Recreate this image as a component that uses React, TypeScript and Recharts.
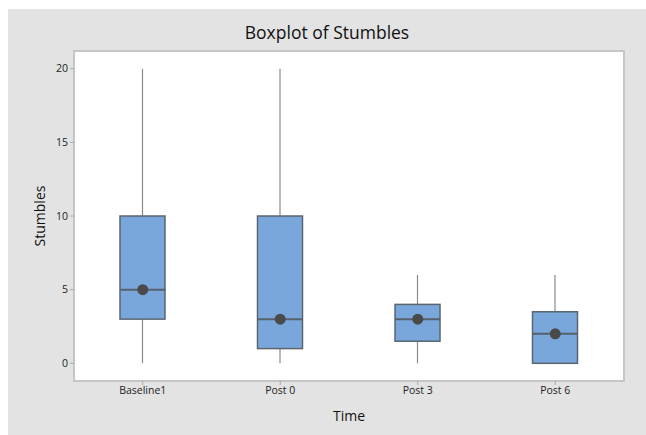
import { ComposedChart, Bar, Scatter, XAxis, YAxis, CartesianGrid, ReferenceArea } from 'recharts';

const times = ['Baseline1', 'Post 0', 'Post 3', 'Post 6'];
const mins = [0, 0, 0, 0];
const q1s = [3, 1, 1.5, 0];
const medians = [5, 3, 3, 2];
const q3s = [10, 10, 4, 3.5];
const maxs = [20, 20, 6, 6];
const means = [5, 3, 3, 2];
const yTicks = [0, 5, 10, 15, 20];

const data = times.map((time, i) => ({
  time,
  whisker: [mins[i], maxs[i]],
  box: [q1s[i], q3s[i]],
  median: medians[i],
  mean: means[i],
}));

const FONT = '"Open Sans", "Noto Sans", sans-serif';
const FRAME = '#c6c6c6';
const BOX_W = 45;
const domain: [number, number] = [-1.2, 21.2];

const Whisker = (p: any) => (
  <line x1={p.x + p.width / 2} x2={p.x + p.width / 2} y1={p.y} y2={p.y + p.height} stroke="#8a8a8a" strokeWidth={1.2} />
);

const Box = (p: any) => (
  <rect x={p.x} y={p.y} width={p.width} height={p.height} fill="#7aa7db" stroke="#5b6570" strokeWidth={1.5} />
);

const MedianLine = (p: any) => (
  <line x1={p.cx - BOX_W / 2} x2={p.cx + BOX_W / 2} y1={p.cy} y2={p.cy} stroke="#56606c" strokeWidth={2} />
);

const MeanDot = (p: any) => <circle cx={p.cx} cy={p.cy} r={5.5} fill="#4a4a4a" />;

export default function App() {
  return (
    <div style={{ position: 'absolute', left: 8, top: 9, width: 660, height: 426, background: '#e3e3e3', fontFamily: FONT }}>
      <style>{'html,body{overflow:hidden}'}</style>
      <div style={{ width: 638, height: 40, lineHeight: '46px', textAlign: 'center', fontSize: 17.5, color: '#111' }}>
        Boxplot of Stumbles
      </div>
      <ComposedChart width={638} height={386} data={data} margin={{ top: 2, right: 22, left: 18, bottom: 10 }}>
        <CartesianGrid fill="#ffffff" horizontal={false} vertical={false} />
        <XAxis
          xAxisId="a"
          dataKey="time"
          height={44}
          tickSize={4}
          tickLine={{ stroke: '#aaa' }}
          axisLine={{ stroke: FRAME, strokeWidth: 2 }}
          tick={{ fill: '#222', fontSize: 10.5 }}
          label={{ value: 'Time', position: 'insideBottom', offset: 4, fill: '#111', fontSize: 14 }}
        />
        <XAxis xAxisId="b" dataKey="time" hide />
        <YAxis
          type="number"
          domain={domain}
          ticks={yTicks}
          width={48}
          tickSize={4}
          tickLine={{ stroke: '#aaa' }}
          axisLine={{ stroke: FRAME, strokeWidth: 2 }}
          tick={{ fill: '#222', fontSize: 10.5 }}
          label={{ value: 'Stumbles', angle: -90, position: 'insideLeft', offset: 14, style: { textAnchor: 'middle' }, fill: '#111', fontSize: 14 }}
        />
        <Bar xAxisId="b" dataKey="whisker" barSize={BOX_W} shape={Whisker} isAnimationActive={false} />
        <Bar xAxisId="a" dataKey="box" barSize={BOX_W} shape={Box} isAnimationActive={false} />
        <Scatter xAxisId="a" dataKey="median" shape={MedianLine} isAnimationActive={false} />
        <Scatter xAxisId="a" dataKey="mean" shape={MeanDot} isAnimationActive={false} />
        <ReferenceArea xAxisId="a" y1={domain[0]} y2={domain[1]} fill="none" fillOpacity={0} stroke={FRAME} strokeWidth={2} />
      </ComposedChart>
    </div>
  );
}
